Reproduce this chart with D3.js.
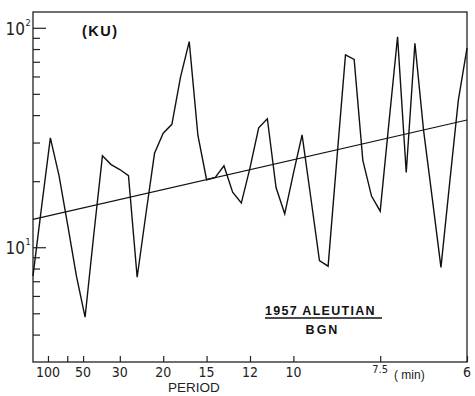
<!DOCTYPE html>
<html lang="en">
<head>
    <meta charset="UTF-8">
    <title>1957 Aleutian / BGN spectrum</title>
    <style>
        body {
            margin: 0;
            background: #fff;
        }

        svg {
            display: block;
            font-family: "Liberation Sans", Arial, sans-serif;
        }

        .narrow {
            font-family: "Liberation Sans Narrow", "DejaVu Sans Condensed", "Arial Narrow", sans-serif;
        }

        .axis path {
            display: none;
        }

        .axis line {
            stroke: #222;
            stroke-width: 1.2;
        }
    </style>
</head>
<body>

<svg id="chart"></svg>

<script src="https://d3js.org/d3.v7.min.js"></script>
<script>
    // Spectral estimate (KU), one value per frequency step of 1/300 cycles/min
    const spectrum = [
        7.4, 15.4, 31.5, 21.2, 12.6, 7.4, 4.8, 11.4, 26.1, 23.8,
        22.6, 21.2, 7.3, 14.1, 26.8, 33.1, 36.3, 59.8, 86.5, 32.3,
        20.3, 20.8, 23.5, 17.8, 15.9, 23.0, 35.0, 38.5, 18.7, 14.2,
        21.7, 32.5, 16.9, 8.7, 8.2, 25.0, 75.2, 71.8, 24.9, 17.1,
        14.6, 36.7, 91, 21.9, 85, 34, 16.7, 8.1, 19.6, 46.7,
        80.7
    ];
    const freqStep = 1 / 300;

    // Fitted background line, values at the two ends of the axis
    const trendEnds = [13.4, 38.0];

    // Period axis (minutes)
    const periodTicks = [174, 76, 52, 30, 20, 15, 12, 10, 7.5, 6];
    const periodLabels = ["100", "", "50", "30", "20", "15", "12", "10", "7.5", "6"];

    // Log axis ticks
    const majorTicks = [10, 100];
    const majorLabels = ["1", "2"];
    const minorTicks = [4, 5, 6, 7, 8, 9, 20, 30, 40, 50, 60, 70, 80, 90];

    const width = 475;
    const height = 396;
    const plotLeft = 33, plotRight = 467, plotTop = 12, plotBottom = 362;

    const svg = d3.select("#chart")
        .attr("width", width)
        .attr("height", height);

    const fMax = 1 / 6;
    const x = d3.scaleLinear().domain([0, fMax]).range([plotLeft, plotRight]);
    const y = d3.scaleLog().domain([3, 118]).range([plotBottom, plotTop]);

    // frame
    svg.append("rect")
        .attr("x", plotLeft)
        .attr("y", plotTop)
        .attr("width", plotRight - plotLeft)
        .attr("height", plotBottom - plotTop)
        .attr("fill", "none")
        .attr("stroke", "#222")
        .attr("stroke-width", 1.3);

    // inward ticks on the left axis
    svg.append("g")
        .attr("class", "axis")
        .attr("transform", `translate(${plotLeft},0)`)
        .call(d3.axisLeft(y).tickValues(majorTicks).tickSize(-13).tickFormat(""));

    svg.append("g")
        .attr("class", "axis")
        .attr("transform", `translate(${plotLeft},0)`)
        .call(d3.axisLeft(y).tickValues(minorTicks).tickSize(-7).tickFormat(""));

    // ticks on the period axis
    svg.append("g")
        .attr("class", "axis")
        .attr("transform", `translate(0,${plotBottom})`)
        .call(d3.axisBottom(x).tickValues(periodTicks.map(p => 1 / p)).tickSize(-6).tickFormat(""));

    // 10^n labels
    const yLab = svg.append("g").attr("class", "narrow");
    majorTicks.forEach((v, i) => {
        yLab.append("text")
            .attr("x", 25)
            .attr("y", y(v) + 7)
            .attr("text-anchor", "end")
            .attr("font-size", 17)
            .attr("fill", "#222")
            .text("10");
        yLab.append("text")
            .attr("x", 25.5)
            .attr("y", y(v) - 2)
            .attr("font-size", 9)
            .attr("fill", "#222")
            .text(majorLabels[i]);
    });

    // period labels
    svg.append("g")
        .attr("class", "narrow")
        .selectAll("text")
        .data(periodTicks)
        .enter()
        .append("text")
        .attr("x", d => x(1 / d))
        .attr("y", (d, i) => periodLabels[i].includes(".") ? 373 : 377)
        .attr("text-anchor", "middle")
        .attr("font-size", (d, i) => periodLabels[i].includes(".") ? 11 : 14)
        .attr("fill", "#222")
        .text((d, i) => periodLabels[i]);

    svg.append("text")
        .attr("x", 394)
        .attr("y", 379)
        .attr("font-size", 12)
        .attr("fill", "#222")
        .text("( min)");

    svg.append("text")
        .attr("x", 168)
        .attr("y", 392)
        .attr("font-size", 13.5)
        .attr("fill", "#222")
        .text("PERIOD");

    // background trend line
    svg.append("path")
        .datum(trendEnds)
        .attr("fill", "none")
        .attr("stroke", "#111")
        .attr("stroke-width", 1.1)
        .attr("d", d3.line()
            .x((d, i) => x(i * fMax))
            .y(d => y(d)));

    // spectrum
    svg.append("path")
        .datum(spectrum)
        .attr("fill", "none")
        .attr("stroke", "#111")
        .attr("stroke-width", 1.4)
        .attr("stroke-linejoin", "miter")
        .attr("d", d3.line()
            .x((d, i) => x(i * freqStep))
            .y(d => y(d)));

    // unit and title
    svg.append("text")
        .attr("x", 82)
        .attr("y", 36)
        .attr("font-size", 14.5)
        .attr("font-weight", "bold")
        .attr("letter-spacing", 1.5)
        .attr("fill", "#111")
        .text("(KU)");

    svg.append("text")
        .attr("x", 265)
        .attr("y", 315)
        .attr("font-size", 12.5)
        .attr("font-weight", "bold")
        .attr("letter-spacing", 1.3)
        .attr("fill", "#111")
        .text("1957 ALEUTIAN");

    svg.append("line")
        .attr("x1", 265)
        .attr("x2", 382)
        .attr("y1", 318)
        .attr("y2", 318)
        .attr("stroke", "#111")
        .attr("stroke-width", 1.4);

    svg.append("text")
        .attr("x", 322.5)
        .attr("y", 334)
        .attr("text-anchor", "middle")
        .attr("font-size", 12.5)
        .attr("font-weight", "bold")
        .attr("letter-spacing", 2)
        .attr("fill", "#111")
        .text("BGN");
</script>

</body>
</html>
